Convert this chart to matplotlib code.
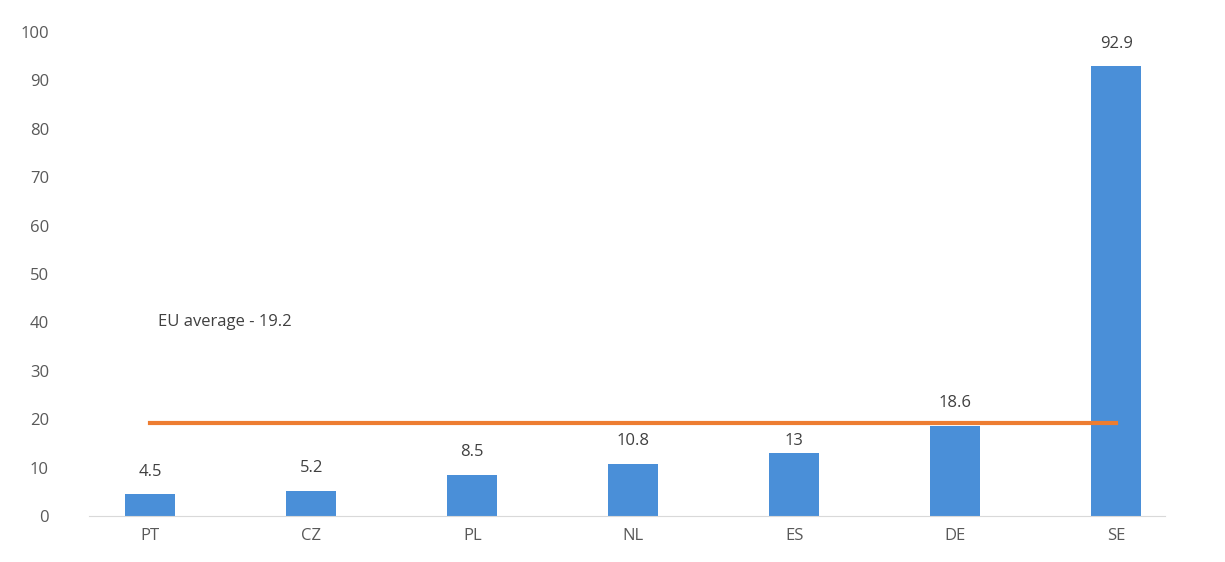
import matplotlib.pyplot as plt

countries = ["PT", "CZ", "PL", "NL", "ES", "DE", "SE"]
values = [4.5, 5.2, 8.5, 10.8, 13, 18.6, 92.9]
value_labels = ["4.5", "5.2", "8.5", "10.8", "13", "18.6", "92.9"]
eu_average = 19.2
yticks = [0, 10, 20, 30, 40, 50, 60, 70, 80, 90, 100]

plt.rcParams['font.family'] = ['Open Sans', 'DejaVu Sans']

fig = plt.figure(figsize=(12.25, 5.62), dpi=100)
ax = fig.add_axes([0.057, 0.082, 0.920, 0.861])

x = list(range(len(countries)))
ax.bar(x, values, width=0.31, color="#4a8fd8", zorder=2)

# labels above bars (the ES one sits lower, tucked under the average line)
for xi, v, lab in zip(x, values, value_labels):
    off = 0.9 if lab == "13" else 3.0
    ax.text(xi, v + off, lab, ha="center", va="bottom", fontsize=12, color="#404040")

# EU average line
ax.plot(x, [eu_average] * len(x), color="#ed7d31", linewidth=3, zorder=3)
ax.text(0.05, 40, "EU average - 19.2", ha="left", va="center", fontsize=12, color="#404040")

ax.set_xlim(-0.5, len(countries) - 0.5)
ax.set_ylim(0, 100)
ax.set_yticks(yticks)
ax.set_xticks(x)
ax.set_xticklabels(countries)
ax.tick_params(axis="both", length=0, labelsize=12, labelcolor="#595959")
ax.tick_params(axis="y", pad=15)
ax.tick_params(axis="x", pad=9)

for s in ["top", "right", "left"]:
    ax.spines[s].set_visible(False)
ax.spines["bottom"].set_color("#d9d9d9")
ax.spines["bottom"].set_bounds(-0.38, 6.3)

fig.savefig("out.png", dpi=100)
